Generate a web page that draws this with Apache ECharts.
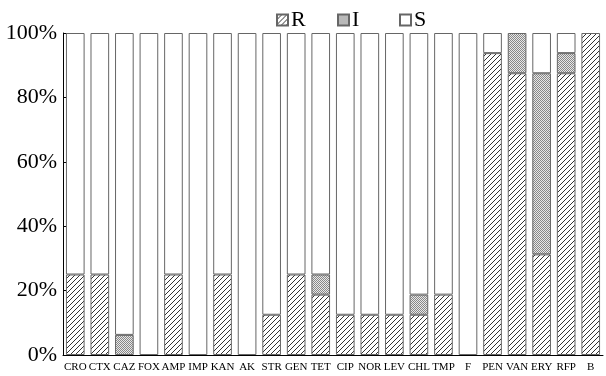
<!DOCTYPE html>
<html><head><meta charset="utf-8">
<script src="https://cdn.jsdelivr.net/npm/echarts@6/dist/echarts.min.js"></script>
<style>html,body{margin:0;padding:0;background:#fff}#c{width:606px;height:376px}</style>
</head><body><div id="c"></div>
<script>
const categories = ['CRO','CTX','CAZ','FOX','AMP','IMP','KAN','AK','STR','GEN','TET','CIP','NOR','LEV','CHL','TMP','F','PEN','VAN','ERY','RFP','B'];
const seriesR = [25,25,0,0,25,0,25,0,12.5,25,18.75,12.5,12.5,12.5,12.5,18.75,0,93.75,87.5,31.25,87.5,100];
const seriesI = [0,0,6.25,0,0,0,0,0,0,0,6.25,0,0,0,6.25,0,0,0,12.5,56.25,6.25,0];
const seriesS = [75,75,93.75,100,75,100,75,100,87.5,75,75,87.5,87.5,87.5,81.25,81.25,100,6.25,0,12.5,6.25,0];
const yTicks = [0,20,40,60,80,100];

function hatch(){
  const c=document.createElement('canvas');c.width=5;c.height=5;
  const g=c.getContext('2d');g.fillStyle='#fff';g.fillRect(0,0,5,5);
  g.strokeStyle='#333';g.lineWidth=1;
  g.beginPath();g.moveTo(-1,6);g.lineTo(6,-1);g.stroke();
  g.beginPath();g.moveTo(-1,1);g.lineTo(1,-1);g.stroke();
  g.beginPath();g.moveTo(4,6);g.lineTo(6,4);g.stroke();
  return c;
}
function dots(){
  const c=document.createElement('canvas');c.width=2;c.height=2;
  const g=c.getContext('2d');g.fillStyle='#e8e8e8';g.fillRect(0,0,2,2);
  g.fillStyle='#888';g.fillRect(0,0,1,1);g.fillRect(1,1,1,1);
  return c;
}
const nz = arr => arr.map(v => v === 0 ? '-' : v);
const font='Liberation Serif';
const chart=echarts.init(document.getElementById('c'),null,{renderer:'canvas'});
const border={borderColor:'#666',borderWidth:1};
const legendBase={icon:'rect',itemWidth:11,itemHeight:11,itemGap:5,top:4,textStyle:{fontFamily:font,fontSize:22,color:'#000',padding:[0,0,0,-2]},selectedMode:false};
chart.setOption({
  animation:false,
  legend:[
    Object.assign({},legendBase,{left:271,data:['R']}),
    Object.assign({},legendBase,{left:332,data:['I']}),
    Object.assign({},legendBase,{left:394,data:['S']})
  ],
  grid:{left:63,right:3,top:33,bottom:21,containLabel:false},
  xAxis:{type:'category',data:categories,
    axisLine:{lineStyle:{color:'#000',width:1}},
    axisTick:{inside:true,length:4,lineStyle:{color:'#000'}},
    axisLabel:{fontFamily:font,fontSize:11,color:'#000',margin:7,interval:0}},
  yAxis:{type:'value',min:0,max:100,interval:20,
    axisLine:{show:true,lineStyle:{color:'#000',width:1}},
    axisTick:{show:true,inside:true,length:7,lineStyle:{color:'#000'}},
    splitLine:{show:false},
    axisLabel:{fontFamily:font,fontSize:22,color:'#000',margin:6,formatter:v=>yTicks.includes(v)?v+'%':''}},
  series:[
    {name:'R',type:'bar',stack:'t',data:nz(seriesR),barWidth:'76%',itemStyle:Object.assign({color:{image:hatch(),repeat:'repeat'}},border)},
    {name:'I',type:'bar',stack:'t',data:nz(seriesI),barWidth:'76%',itemStyle:Object.assign({color:{image:dots(),repeat:'repeat'}},border)},
    {name:'S',type:'bar',stack:'t',data:nz(seriesS),barWidth:'76%',itemStyle:Object.assign({color:'#fff'},border)}
  ]
});
</script></body></html>
